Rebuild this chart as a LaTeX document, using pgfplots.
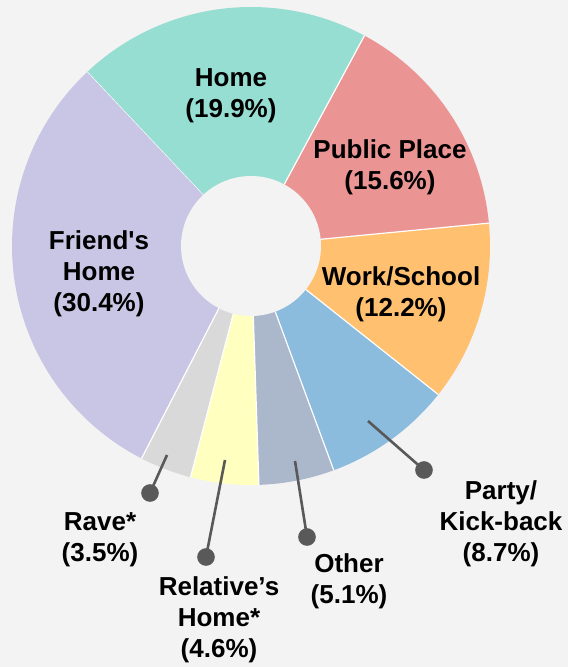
\documentclass[border=0pt]{standalone}
\usepackage{pgfplots}
\pgfplotsset{compat=1.18}
\usepackage{pgfplotstable}
\usepackage{fontspec}
\setmainfont{Liberation Sans}
\definecolor{cHome}{HTML}{97DED2}
\definecolor{cPub}{HTML}{EA9493}
\definecolor{cWork}{HTML}{FFC06F}
\definecolor{cParty}{HTML}{8BBBDD}
\definecolor{cOther}{HTML}{ABB7CA}
\definecolor{cRel}{HTML}{FFFFBF}
\definecolor{cRave}{HTML}{D9D9D9}
\definecolor{cFriend}{HTML}{C9C5E4}
\definecolor{cBg}{HTML}{F3F3F3}
\definecolor{cLine}{HTML}{595959}
\tikzset{lbl/.style={align=center, font=\bfseries\fontsize{26}{31}\selectfont, text=black}}
\pgfplotsset{leader/.style={cLine, line width=2.6pt, mark=*, mark size=7.5pt, mark indices={2}, mark options={fill=cLine, draw=none}}}
\pgfplotstableread{
label value col
Home 19.9 cHome
PublicPlace 15.6 cPub
WorkSchool 12.2 cWork
Party 8.7 cParty
Other 5.1 cOther
Relative 4.6 cRel
Rave 3.5 cRave
Friend 30.4 cFriend
}\slices
\begin{document}
\begin{tikzpicture}
\fill[cBg] (0,0) rectangle (568pt,667pt);
\begin{axis}[at={(0,0)}, anchor=south west, scale only axis,
  width=568pt, height=667pt, xmin=0, xmax=568, ymin=0, ymax=667,
  y dir=reverse, hide axis, clip=false]
\pgfmathsetmacro\cur{-43.3}
\pgfplotsforeachungrouped \i in {0,...,7}{
  \pgfplotstablegetelem{\i}{value}\of\slices \let\v\pgfplotsretval
  \pgfplotstablegetelem{\i}{col}\of\slices \let\c\pgfplotsretval
  \pgfmathsetmacro\nxt{\cur+3.6*\v}
  \edef\temp{\noexpand\addplot[fill=\c, draw=none, domain=\cur:\nxt, samples=90, variable=\noexpand\t] ({251+239*sin(\noexpand\t)},{246-239*cos(\noexpand\t)}) -- (axis cs:251,246) -- cycle;}
  \temp
  \edef\temp{\noexpand\addplot[white, line width=1.2pt, domain=70:239, samples=2] ({251+x*sin(\cur)},{246-x*cos(\cur)});}
  \temp
  \let\cur\nxt
}
\addplot[fill=cBg, draw=none, domain=0:360, samples=120, variable=\t] ({251+70*sin(t)},{246-70*cos(t)}) -- cycle;
\addplot[leader] coordinates {(167,455) (150,493)};
\addplot[leader] coordinates {(225,460) (206,557)};
\addplot[leader] coordinates {(295,461) (307,537)};
\addplot[leader] coordinates {(368,421) (424,470)};
\node[lbl] at (axis cs:231,96) {Home\\(19.9\%)};
\node[lbl] at (axis cs:390,167) {Public Place\\(15.6\%)};
\node[lbl] at (axis cs:401,294) {Work/School\\(12.2\%)};
\node[lbl] at (axis cs:99,274) {Friend\textquotesingle s\\Home\\(30.4\%)};
\node[lbl] at (axis cs:100,540) {Rave*\\(3.5\%)};
\node[lbl] at (axis cs:219,620) {Relative’s\\Home*\\(4.6\%)};
\node[lbl] at (axis cs:349,581) {Other\\(5.1\%)};
\node[lbl] at (axis cs:501,524) {Party/\\Kick-back\\(8.7\%)};
\end{axis}
\end{tikzpicture}
\end{document}
